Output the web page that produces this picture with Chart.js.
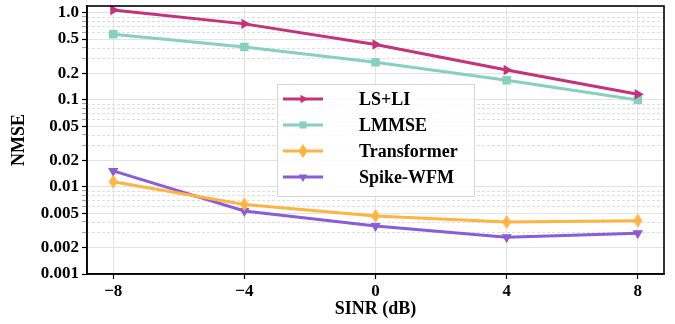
<!DOCTYPE html>
<html>
<head>
<meta charset="utf-8">
<script src="https://cdn.jsdelivr.net/npm/chart.js@4/dist/chart.umd.min.js"></script>
<style>
  html, body { margin: 0; padding: 0; background: #fff; }
  #wrap { width: 675px; height: 324px; }
</style>
</head>
<body>
<div id="wrap"><canvas id="chart" width="675" height="324"></canvas></div>
<script>
// values
const sinr = [-8, -4, 0, 4, 8];
const lsLi = [1.08, 0.748, 0.433, 0.221, 0.116];
const lmmse = [0.569, 0.406, 0.271, 0.168, 0.100];
const transformer = [0.0115, 0.0063, 0.00464, 0.00396, 0.0041];
const spikeWfm = [0.0153, 0.0053, 0.00356, 0.00264, 0.00294];

const xTicks = [-8, -4, 0, 4, 8];
const yMajorTicks = [0.001, 0.002, 0.005, 0.01, 0.02, 0.05, 0.1, 0.2, 0.5, 1.0];
const yMinorTicks = [0.003, 0.004, 0.006, 0.007, 0.008, 0.009,
                     0.03, 0.04, 0.06, 0.07, 0.08, 0.09,
                     0.3, 0.4, 0.6, 0.7, 0.8, 0.9];

const FONT = "'Liberation Serif', 'Times New Roman', serif";

// thin diamond marker (matplotlib 'd')
function thinDiamond(color) {
    const c = document.createElement('canvas');
    c.width = 10; c.height = 14;
    const g = c.getContext('2d');
    g.fillStyle = color;
    g.beginPath();
    g.moveTo(5, 0); g.lineTo(9.5, 7); g.lineTo(5, 14); g.lineTo(0.5, 7);
    g.closePath();
    g.fill();
    return c;
}

function toPoints(ys) {
    return sinr.map((x, i) => ({ x: x, y: ys[i] }));
}

const series = [
    { label: 'LS+LI', data: lsLi, color: '#c5317c', style: 'triangle', rotation: 90, radius: 6 },
    { label: 'LMMSE', data: lmmse, color: '#86d0bf', style: 'rect', rotation: 0, radius: 6 },
    { label: 'Transformer', data: transformer, color: '#ffb340', style: 'diamond', rotation: 0, radius: 6 },
    { label: 'Spike-WFM', data: spikeWfm, color: '#8a5cd8', style: 'triangle', rotation: 180, radius: 6 }
];

series.forEach(s => {
    if (s.style === 'diamond') s.style = thinDiamond(s.color);
});

// dashed minor grid + frame round the plot
const framePlugin = {
    id: 'frame',
    beforeDatasetsDraw(chart) {
        const { ctx, chartArea } = chart;
        const y = chart.scales.y;
        ctx.save();
        ctx.strokeStyle = '#dedede';
        ctx.lineWidth = 1;
        ctx.setLineDash([3, 2]);
        yMinorTicks.forEach(v => {
            const py = Math.round(y.getPixelForValue(v)) + 0.5;
            ctx.beginPath();
            ctx.moveTo(chartArea.left, py);
            ctx.lineTo(chartArea.right, py);
            ctx.stroke();
        });
        ctx.restore();
    },
    afterDraw(chart) {
        const { ctx, chartArea } = chart;
        ctx.save();
        ctx.strokeStyle = '#000';
        ctx.lineWidth = 1.6;
        ctx.strokeRect(chartArea.left, chartArea.top,
            chartArea.right - chartArea.left, chartArea.bottom - chartArea.top);
        ctx.restore();
    }
};

// legend drawn inside the plot, matplotlib style
const legendPlugin = {
    id: 'innerLegend',
    afterDraw(chart) {
        const { ctx, chartArea } = chart;
        const bx = chartArea.left + 190;
        const by = chartArea.top + 78;
        const bw = 197, bh = 112;
        ctx.save();
        ctx.fillStyle = 'rgba(255,255,255,0.85)';
        ctx.fillRect(bx, by, bw, bh);
        ctx.strokeStyle = '#d6d6d6';
        ctx.lineWidth = 1;
        ctx.strokeRect(bx + 0.5, by + 0.5, bw, bh);
        ctx.font = 'bold 18px ' + FONT;
        ctx.textBaseline = 'middle';
        ctx.textAlign = 'left';
        chart.data.datasets.forEach((ds, i) => {
            const cy = by + 15 + i * 26;
            ctx.strokeStyle = ds.borderColor;
            ctx.lineWidth = 3;
            ctx.setLineDash([]);
            ctx.beginPath();
            ctx.moveTo(bx + 6, cy);
            ctx.lineTo(bx + 46, cy);
            ctx.stroke();
            ctx.fillStyle = ds.pointBackgroundColor;
            ctx.strokeStyle = ds.pointBorderColor;
            Chart.helpers.drawPoint(ctx, {
                pointStyle: ds.pointStyle,
                rotation: ds.pointRotation,
                radius: 5,
                borderWidth: 0
            }, bx + 26, cy);
            ctx.fillStyle = '#000';
            ctx.fillText(ds.label, bx + 82, cy + 1);
        });
        ctx.restore();
    }
};

const ctx = document.getElementById('chart').getContext('2d');
new Chart(ctx, {
    type: 'line',
    data: {
        datasets: series.map(s => ({
            label: s.label,
            data: toPoints(s.data),
            borderColor: s.color,
            backgroundColor: s.color,
            pointBackgroundColor: s.color,
            pointBorderColor: s.color,
            pointBorderWidth: 0,
            pointStyle: s.style,
            pointRotation: s.rotation,
            pointRadius: s.radius,
            borderWidth: 3,
            tension: 0,
            clip: false
        }))
    },
    options: {
        responsive: false,
        animation: false,
        layout: { padding: { top: 6, right: 11, left: 0, bottom: 0 } },
        plugins: {
            legend: { display: false },
            tooltip: { enabled: false }
        },
        scales: {
            x: {
                type: 'linear',
                min: -8.8,
                max: 8.8,
                afterBuildTicks: scale => {
                    scale.ticks = xTicks.map(v => ({ value: v }));
                },
                afterFit: scale => {
                    scale.height = 50;
                    scale.paddingLeft = 0;
                    scale.paddingRight = 0;
                },
                ticks: {
                    color: '#000',
                    font: { family: FONT, size: 17, weight: 'bold' },
                    padding: 2,
                    callback: v => (v < 0 ? '\u2212' + Math.abs(v) : String(v))
                },
                grid: {
                    color: '#e3e3e3',
                    lineWidth: 1,
                    tickColor: '#000',
                    tickLength: 5,
                    tickWidth: 1.2
                },
                border: { color: '#000', width: 1.6 },
                title: {
                    display: true,
                    text: 'SINR (dB)',
                    color: '#000',
                    font: { family: FONT, size: 18, weight: 'bold' },
                    padding: { top: 0, bottom: 4 }
                }
            },
            y: {
                type: 'logarithmic',
                min: 0.001,
                max: 1.2,
                afterBuildTicks: scale => {
                    scale.ticks = yMajorTicks.concat(yMinorTicks).map(v => ({ value: v }));
                },
                afterFit: scale => {
                    scale.width = 87;
                    scale.paddingTop = 0;
                    scale.paddingBottom = 0;
                },
                ticks: {
                    autoSkip: false,
                    color: '#000',
                    font: { family: FONT, size: 17, weight: 'bold' },
                    padding: 3,
                    callback: v => {
                        if (!yMajorTicks.includes(v)) return '';
                        return v === 1 ? '1.0' : String(v);
                    }
                },
                grid: {
                    color: c => (c.tick && yMajorTicks.includes(c.tick.value) ? '#e3e3e3' : 'rgba(0,0,0,0)'),
                    lineWidth: 1,
                    tickColor: c => (c.tick && yMajorTicks.includes(c.tick.value) ? '#000' : '#aaa'),
                    tickLength: 5,
                    tickWidth: 1.2
                },
                border: { color: '#000', width: 1.6 },
                title: {
                    display: true,
                    text: 'NMSE',
                    color: '#000',
                    font: { family: FONT, size: 18, weight: 'bold' },
                    padding: { top: 9, bottom: 0 }
                }
            }
        }
    },
    plugins: [framePlugin, legendPlugin]
});
</script>
</body>
</html>
